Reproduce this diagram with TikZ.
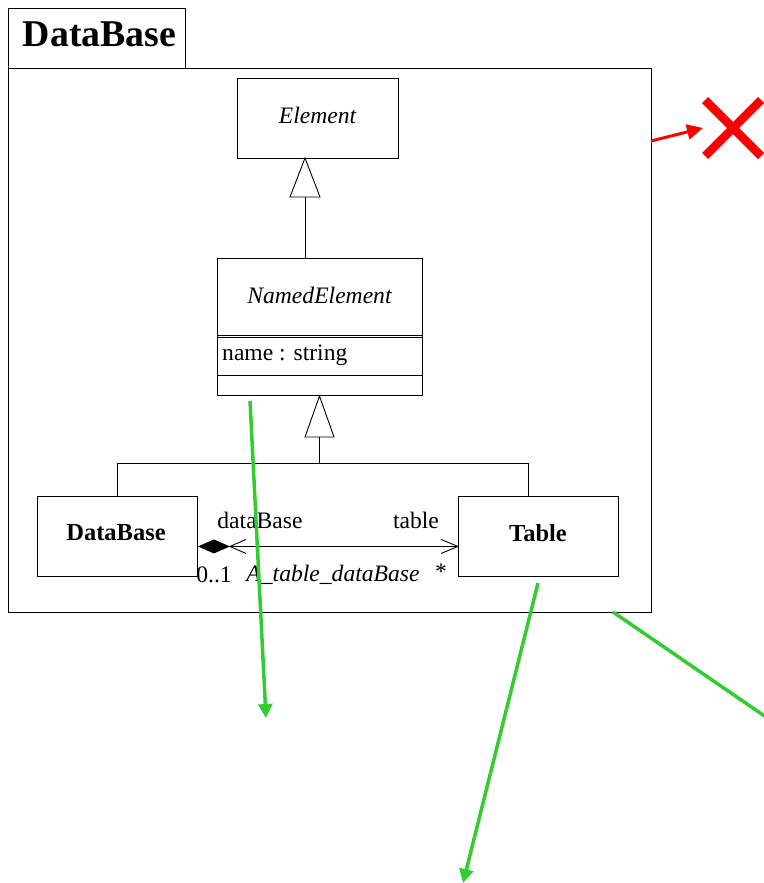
\documentclass[tikz,border=0pt]{standalone}
\usepackage{fontspec}
\setmainfont{Liberation Serif}
\usetikzlibrary{arrows.meta}
\definecolor{notegreen}{RGB}{50,205,50}
\begin{document}
\begin{tikzpicture}[x=1pt,y=-1pt,
  uml/.style={draw=black,line width=0.9pt},
  classbox/.style={uml,rectangle,inner sep=0pt,anchor=north west},
  lbl/.style={font=\fontsize{23.6}{26}\selectfont,inner sep=0pt},
  itlbl/.style={font=\itshape\fontsize{23.6}{26}\selectfont,inner sep=0pt},
  bflbl/.style={font=\bfseries\fontsize{24.5}{27}\selectfont,inner sep=0pt},
  hollowtri/.style={uml,fill=white},
  greenarrow/.style={draw=notegreen,line width=3.5pt,-{Triangle[length=14pt,width=14pt]}},
  greenline/.style={draw=notegreen,line width=3.5pt},
]
\useasboundingbox (0,0) rectangle (763,883);

% package tab and body
\node[classbox,minimum width=177pt,minimum height=60pt] (tab) at (8,8) {};
\node[font=\bfseries\fontsize{37.8}{42}\selectfont,inner sep=0pt] (tabtitle) at (99.5,34) {DataBase};
\node[classbox,minimum width=643pt,minimum height=544pt] (pkg) at (8,68) {};

% classes
\node[classbox,minimum width=161pt,minimum height=80pt] (elem) at (237,78) {};
\node[itlbl] (elemname) at (317.5,115) {Element};

\node[classbox,minimum width=205pt,minimum height=137pt] (named) at (217,258) {};
\node[itlbl] (namedname) at (319.5,295) {NamedElement};
\draw[uml] (217,335) -- (422,335);
\draw[uml] (217,337) -- (422,337);
\draw[uml] (217,375) -- (422,375);
\node[lbl,anchor=west] (attr) at (222,355) {name : string};

\node[classbox,minimum width=160pt,minimum height=80pt] (db) at (37,496) {};
\node[bflbl] (dbname) at (116,533) {DataBase};
\node[classbox,minimum width=160pt,minimum height=80pt] (tb) at (458,496) {};
\node[bflbl] (tbname) at (538,533) {Table};

% generalization NamedElement -> Element
\coordinate (g1tip) at (305,158);
\coordinate (g1base) at (305,197);
\draw[uml] (g1base) -- (g1base |- named.north);
\draw[hollowtri] (g1tip) -- (320,197) -- (290,197) -- cycle;

% generalization DataBase, Table -> NamedElement
\coordinate (g2tip) at (319.5,396);
\coordinate (g2base) at (319.5,437);
\coordinate (join) at (319.5,463);
\coordinate (joinL) at (117,463);
\coordinate (joinR) at (528,463);
\draw[hollowtri] (g2tip) -- (334,437) -- (305,437) -- cycle;
\draw[uml] (g2base) -- (join);
\draw[uml] (joinL |- db.north) -- (joinL) -- (joinR) -- (joinR |- tb.north);

% association A_table_dataBase
\coordinate (aL) at ([yshift=-10pt]db.east);
\coordinate (aR) at ([yshift=-10pt]tb.west);
\draw[uml] (aL) -- (aR);
\fill[black] (aL) -- ++(16,-7) -- ++(16,7) -- ++(-16,7) -- cycle;
\draw[uml] ([shift={(48,-7)}]aL) -- ([shift={(32,0)}]aL) -- ([shift={(48,7)}]aL);
\draw[uml] ([shift={(-17,-7)}]aR) -- (aR) -- ([shift={(-17,7)}]aR);
\node[lbl] (roleL) at (260,520) {dataBase};
\node[lbl] (roleR) at (416,520) {table};
\node[lbl] (multL) at (214,575) {0..1};
\node[itlbl] (assoc) at (333,575) {A\_table\_dataBase};
\node[lbl] (multR) at (441,572) {*};

% red mark
\coordinate (rs) at (651,141);
\coordinate (rx) at (733,128);
\draw[red,line width=3pt,-{Triangle[length=16pt,width=15pt]}] (rs) -- (703,128);
\draw[red,line width=8.5pt] ([shift={(-28,-28)}]rx) -- ([shift={(28,28)}]rx);
\draw[red,line width=8.5pt] ([shift={(-28,28)}]rx) -- ([shift={(28,-28)}]rx);

% green annotation strokes
\coordinate (ga1) at (250,401);
\coordinate (ga2) at (266,718);
\coordinate (gb1) at (538,583);
\coordinate (gb2) at (463,883);
\coordinate (gc1) at (613,612);
\coordinate (gc2) at (766,717);
\draw[greenarrow] (ga1) -- (ga2);
\draw[greenarrow] (gb1) -- (gb2);
\draw[greenline] (gc1) -- (gc2);
\end{tikzpicture}
\end{document}
